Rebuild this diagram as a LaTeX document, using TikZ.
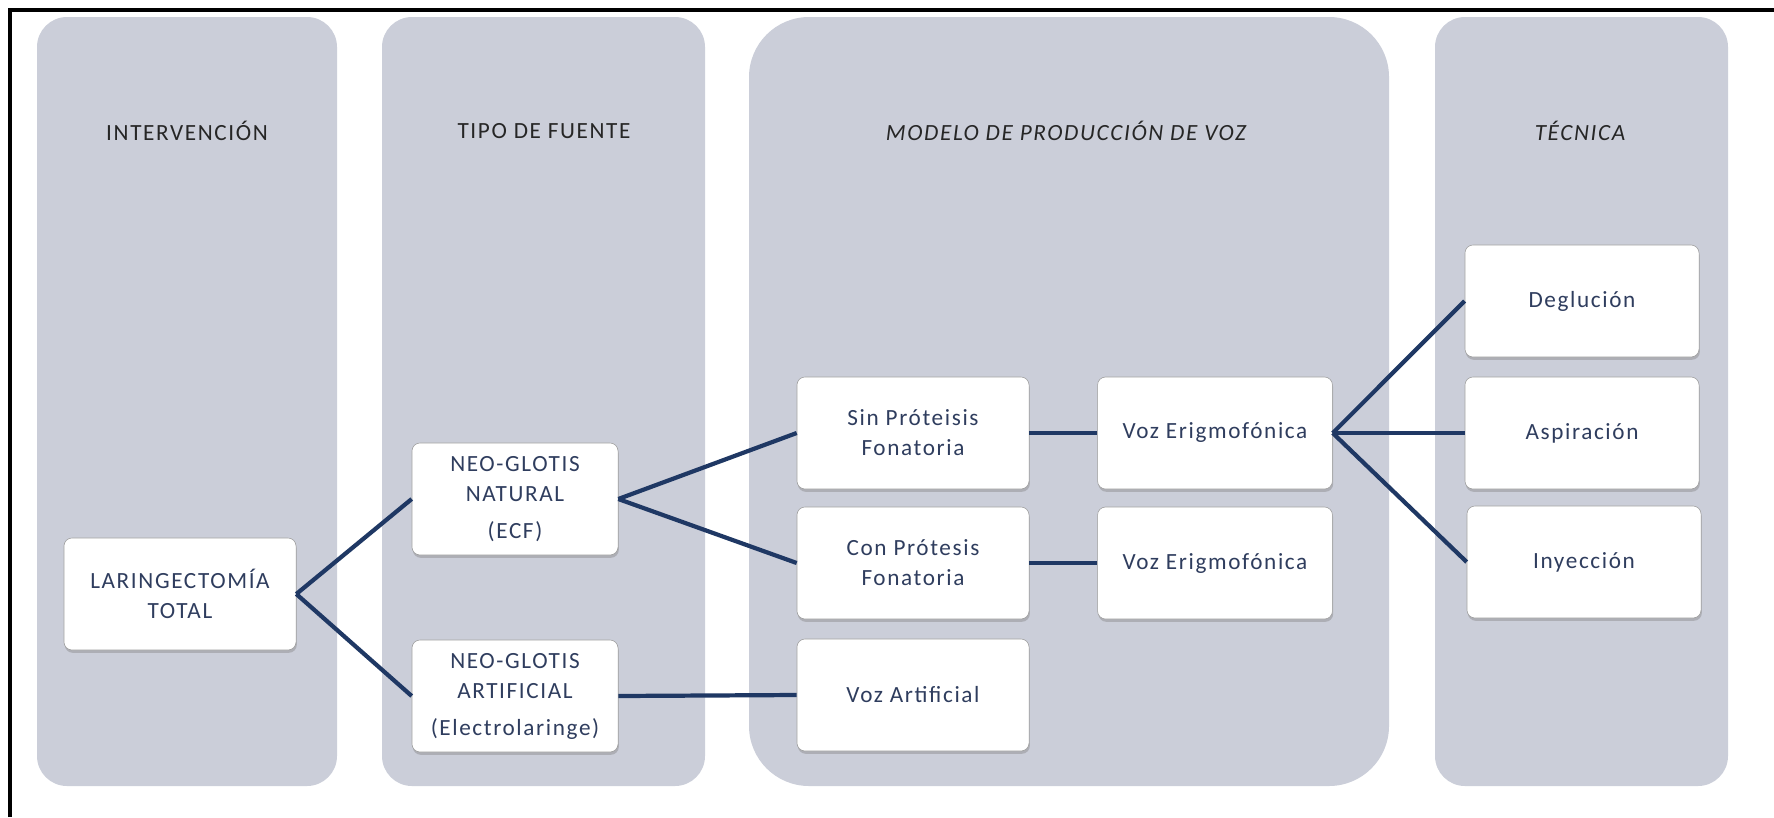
\documentclass[tikz,border=0pt]{standalone}
\usepackage{fontspec}
\setmainfont{Carlito}[LetterSpace=7]
\usetikzlibrary{positioning,shadows}

\definecolor{lanefill}{HTML}{CBCED9}
\definecolor{linkblue}{HTML}{1F3864}
\definecolor{boxtext}{HTML}{2F3D5E}
\definecolor{boxline}{HTML}{9C9C9C}

\begin{document}
\begin{tikzpicture}[x=0.025cm, y=-0.025cm,
    lane/.style={fill=lanefill, draw=none, rounded corners=0.75cm},
    lanehead/.style={font=\fontsize{16.5}{20}\selectfont, text=black!85},
    stepbox/.style={draw=boxline, fill=white, rounded corners=0.2cm, align=center,
        text=boxtext, font=\fontsize{16.5}{21.3}\selectfont,
        minimum width=5.8cm, minimum height=2.8cm, inner sep=2pt,
        drop shadow={shadow xshift=0.02cm, shadow yshift=-0.07cm, opacity=0.4}},
    link/.style={draw=linkblue, line width=3pt}]

\useasboundingbox (0,0) rectangle (1774,817);
\draw[line width=2.6pt] (10,817) -- (10,10) -- (1774,10);

% lanes
\foreach \xa/\xb in {37/337, 382/705, 1435/1728}
    \path[lane] (\xa,17) rectangle (\xb,786);
\path[lane, rounded corners=1.5cm] (749,17) rectangle (1389,786);

\node[lanehead] (hint) at (187,131) {INTERVENCIÓN};
\node[lanehead] (hfuente) at (544,131) {TIPO DE FUENTE};
\node[lanehead, font=\fontsize{16.5}{20}\selectfont\itshape] (hmodelo) at (1066,131) {MODELO DE PRODUCCIÓN DE VOZ};
\node[lanehead, font=\fontsize{16.5}{20}\selectfont\itshape] (htec) at (1580,131) {TÉCNICA};

% boxes
\node[stepbox] (lar) at (180,594) {LARINGECTOMÍA\\TOTAL};
\node[stepbox, minimum width=5.15cm] (nat) at (515,499) {NEO-GLOTIS\\NATURAL\\[5pt](ECF)};
\node[stepbox, minimum width=5.15cm] (art) at (515,696) {NEO-GLOTIS\\ARTIFICIAL\\[5pt](Electrolaringe)};
\node[stepbox] (sin) at (913,433) {Sin Próteisis\\Fonatoria};
\node[stepbox] (con) at (913,563) {Con Prótesis\\Fonatoria};
\node[stepbox] (vart) at (913,695) {Voz Artificial};
\node[stepbox, minimum width=5.87cm] (erigA) at (1215,433) {Voz Erigmofónica};
\node[stepbox, minimum width=5.87cm] (erigB) at (1215,563) {Voz Erigmofónica};
\node[stepbox, minimum width=5.85cm] (degl) at (1582,301) {Deglución};
\node[stepbox, minimum width=5.85cm] (aspi) at (1582,433) {Aspiración};
\node[stepbox, minimum width=5.85cm] (inye) at (1584,562) {Inyección};

% links
\draw[link] (lar.east) -- (nat.west);
\draw[link] (lar.east) -- (art.west);
\draw[link] (nat.east) -- (sin.west);
\draw[link] (nat.east) -- (con.west);
\draw[link] (art.east) -- (vart.west);
\draw[link] (sin.east) -- (erigA.west);
\draw[link] (con.east) -- (erigB.west);
\foreach \t in {degl, aspi, inye}
    \draw[link] (erigA.east) -- (\t.west);

\end{tikzpicture}
\end{document}
